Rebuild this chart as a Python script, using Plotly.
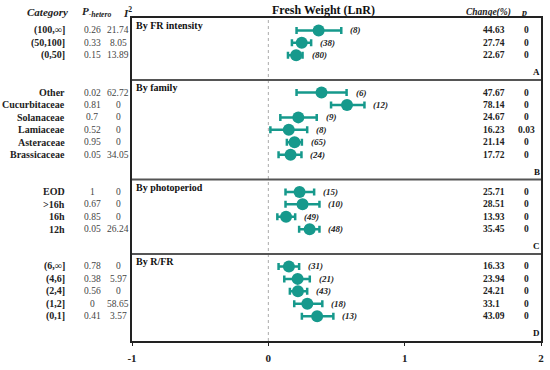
import plotly.graph_objects as go

# ---------------- data ----------------
panel_titles = ["By FR intensity", "By family", "By photoperiod", "By R/FR"]
panel_letters = ["A", "B", "C", "D"]
categories = [
    ["(100,∞]", "(50,100]", "(0,50]"],
    ["Other", "Cucurbitaceae", "Solanaceae", "Lamiaceae", "Asteraceae", "Brassicaceae"],
    ["EOD", ">16h", "16h", "12h"],
    ["(6,∞]", "(4,6]", "(2,4]", "(1,2]", "(0,1]"],
]
p_hetero = [
    ["0.26", "0.33", "0.15"],
    ["0.02", "0.81", "0.7", "0.52", "0.95", "0.05"],
    ["1", "0.67", "0.85", "0.05"],
    ["0.78", "0.38", "0.56", "0", "0.41"],
]
i_squared = [
    ["21.74", "8.05", "13.89"],
    ["62.72", "0", "0", "0", "0", "34.05"],
    ["0", "0", "0", "26.24"],
    ["0", "5.97", "0", "58.65", "3.57"],
]
lnr_mean = [
    [0.369, 0.245, 0.204],
    [0.390, 0.577, 0.220, 0.150, 0.192, 0.163],
    [0.229, 0.251, 0.130, 0.303],
    [0.151, 0.215, 0.217, 0.286, 0.358],
]
ci_low = [
    [0.207, 0.173, 0.144],
    [0.207, 0.460, 0.088, 0.015, 0.136, 0.075],
    [0.126, 0.126, 0.066, 0.226],
    [0.075, 0.117, 0.158, 0.190, 0.246],
]
ci_high = [
    [0.535, 0.314, 0.251],
    [0.574, 0.705, 0.355, 0.285, 0.246, 0.243],
    [0.336, 0.375, 0.197, 0.375],
    [0.226, 0.304, 0.285, 0.396, 0.477],
]
n_obs = [
    [8, 38, 80],
    [6, 12, 9, 8, 65, 24],
    [15, 10, 49, 48],
    [31, 21, 43, 18, 13],
]
change_pct = [
    ["44.63", "27.74", "22.67"],
    ["47.67", "78.14", "24.67", "16.23", "21.14", "17.72"],
    ["25.71", "28.51", "13.93", "35.45"],
    ["16.33", "23.94", "24.21", "33.1", "43.09"],
]
p_value = [
    ["0", "0", "0"],
    ["0", "0", "0", "0.03", "0", "0"],
    ["0", "0", "0", "0"],
    ["0", "0", "0", "0", "0"],
]
x_ticks = [-1, 0, 1, 2]

# ---------------- layout helpers ----------------
TEAL = "#16998C"
SERIF = "Liberation Serif, Times New Roman, serif"
L, R, T, B = 132, 6, 18, 21
W, H = 550, 370
plot_w = W - L - R
plot_h = H - T - B
XMIN, XMAX = -1, 2
TOTAL = sum(len(c) + 2 for c in categories)  # rows incl. title & spacer rows


def px_to_paper_x(px):
    return (px - L) / plot_w


def px_to_paper_y(py):
    return (H - B - py) / plot_h


fig = go.Figure()
anns = []
shapes = []

k = 0  # row counter from top
for pi, cats in enumerate(categories):
    panel_top = k
    ys = []
    for ri in range(len(cats)):
        ys.append(TOTAL - (panel_top + 1 + ri))
    panel_bottom = panel_top + len(cats) + 2
    k = panel_bottom

    m = lnr_mean[pi]
    lo = ci_low[pi]
    hi = ci_high[pi]
    fig.add_trace(go.Scatter(
        x=m, y=ys, mode="markers",
        marker=dict(color=TEAL, size=12, symbol="circle"),
        error_x=dict(type="data", symmetric=False,
                     array=[h - v for h, v in zip(hi, m)],
                     arrayminus=[v - l for v, l in zip(m, lo)],
                     color=TEAL, thickness=2.5, width=3.5),
        showlegend=False, cliponaxis=False, hoverinfo="skip",
    ))

    for ri, cat in enumerate(cats):
        y = ys[ri]
        anns.append(dict(x=px_to_paper_x(67), xref="paper", y=y, yref="y",
                         text="<b>%s</b>" % cat, xanchor="right", yanchor="middle",
                         showarrow=False, font=dict(family=SERIF, size=10, color="#222")))
        anns.append(dict(x=px_to_paper_x(92), xref="paper", y=y, yref="y",
                         text=p_hetero[pi][ri], xanchor="center", yanchor="middle",
                         showarrow=False, font=dict(family=SERIF, size=9.5, color="#444")))
        anns.append(dict(x=px_to_paper_x(118), xref="paper", y=y, yref="y",
                         text=i_squared[pi][ri], xanchor="center", yanchor="middle",
                         showarrow=False, font=dict(family=SERIF, size=9.5, color="#444")))
        anns.append(dict(x=hi[ri], xref="x", y=y, yref="y", xshift=7,
                         text="<b><i>(%d)</i></b>" % n_obs[pi][ri], xanchor="left",
                         yanchor="middle", showarrow=False,
                         font=dict(family=SERIF, size=9, color="#222")))
        anns.append(dict(x=px_to_paper_x(484), xref="paper", y=y, yref="y",
                         text="<b>%s</b>" % change_pct[pi][ri], xanchor="left",
                         yanchor="middle", showarrow=False,
                         font=dict(family=SERIF, size=9.5, color="#222")))
        anns.append(dict(x=px_to_paper_x(529), xref="paper", y=y, yref="y",
                         text="<b>%s</b>" % p_value[pi][ri], xanchor="center",
                         yanchor="middle", showarrow=False,
                         font=dict(family=SERIF, size=9.5, color="#222")))

    # panel title
    anns.append(dict(x=0, xref="paper", y=TOTAL - panel_top, yref="y", xshift=2, yshift=0,
                     text="<b>%s</b>" % panel_titles[pi], xanchor="left", yanchor="top",
                     showarrow=False, font=dict(family=SERIF, size=10, color="#111")))
    # panel letter
    anns.append(dict(x=1, xref="paper", y=TOTAL - panel_bottom, yref="y", xshift=1, yshift=1,
                     text="<b>%s</b>" % panel_letters[pi], xanchor="right", yanchor="bottom",
                     showarrow=False, font=dict(family=SERIF, size=9, color="#111")))
    # divider
    if pi < len(categories) - 1:
        shapes.append(dict(type="line", xref="paper", x0=0, x1=1, yref="y",
                           y0=TOTAL - panel_bottom, y1=TOTAL - panel_bottom,
                           line=dict(color="#555", width=2)))

# zero reference line
shapes.append(dict(type="line", xref="x", x0=0, x1=0, yref="paper", y0=0, y1=1,
                   line=dict(color="#aaa", width=1, dash="dot"), layer="below"))

# headers
hdr_y = px_to_paper_y(12)
anns += [
    dict(x=px_to_paper_x(47), xref="paper", y=hdr_y, yref="paper", showarrow=False,
         text="<b><i>Category</i></b>", xanchor="center", yanchor="middle",
         font=dict(family=SERIF, size=11, color="#222")),
    dict(x=px_to_paper_x(80), xref="paper", y=hdr_y, yref="paper", showarrow=False,
         text="<b><i>P</i></b><sub><b><i>-hetero</i></b></sub>", xanchor="left", yanchor="middle",
         font=dict(family=SERIF, size=11, color="#222")),
    dict(x=px_to_paper_x(121), xref="paper", y=hdr_y, yref="paper", showarrow=False,
         text="<b><i>I</i></b><sup><b>2</b></sup>", xanchor="left", yanchor="middle",
         font=dict(family=SERIF, size=11, color="#222")),
    dict(x=px_to_paper_x(325), xref="paper", y=px_to_paper_y(10), yref="paper", showarrow=False,
         text="<b>Fresh Weight (LnR)</b>", xanchor="center", yanchor="middle",
         font=dict(family=SERIF, size=12, color="#111")),
    dict(x=px_to_paper_x(491), xref="paper", y=hdr_y, yref="paper", showarrow=False,
         text="<b><i>Change(%)</i></b>", xanchor="center", yanchor="middle",
         font=dict(family=SERIF, size=9.5, color="#222")),
    dict(x=px_to_paper_x(527), xref="paper", y=hdr_y, yref="paper", showarrow=False,
         text="<b><i>p</i></b>", xanchor="center", yanchor="middle",
         font=dict(family=SERIF, size=10, color="#222")),
]

fig.update_layout(
    width=W, height=H,
    margin=dict(l=L, r=R, t=T, b=B, pad=0),
    paper_bgcolor="white", plot_bgcolor="white",
    annotations=anns, shapes=shapes,
    xaxis=dict(range=[XMIN, XMAX], tickvals=x_ticks,
               ticktext=["<b>%d</b>" % v for v in x_ticks],
               showgrid=False, zeroline=False, showline=True, mirror=True,
               linecolor="#222", linewidth=1.5, ticks="outside", ticklen=3,
               tickcolor="#222", ticklabelstandoff=3,
               tickfont=dict(family=SERIF, size=11, color="#222")),
    yaxis=dict(range=[0, TOTAL], showgrid=False, zeroline=False, showline=True,
               mirror=True, linecolor="#222", linewidth=1.5, showticklabels=False,
               ticks=""),
)

fig.write_html(
    "out.html",
    config={"displayModeBar": False},
    post_script="document.body.style.margin='0';document.body.style.overflow='hidden';",
)
